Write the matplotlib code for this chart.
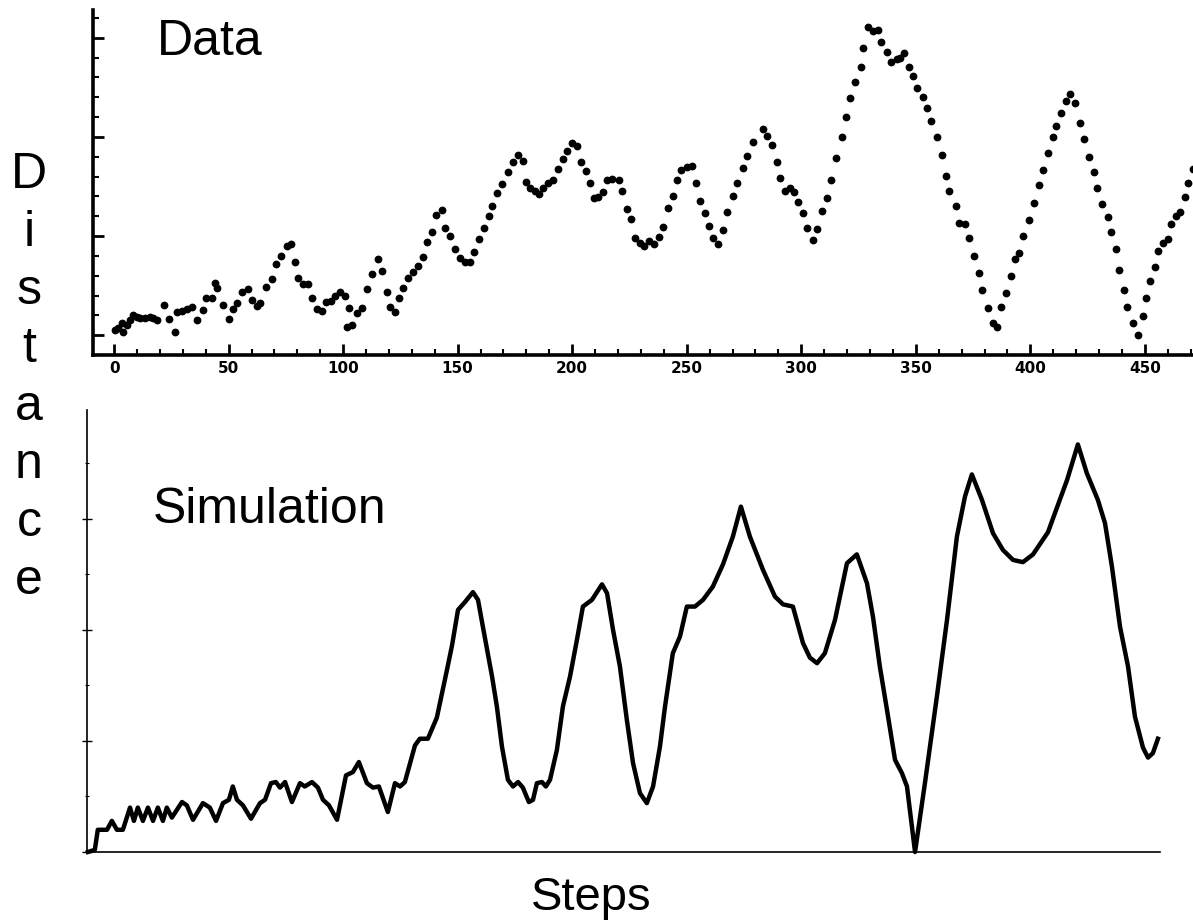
import numpy as np
import matplotlib
matplotlib.use('Agg')
import matplotlib.pyplot as plt
from matplotlib.ticker import MultipleLocator, NullLocator, NullFormatter

# measured data (top panel), step vs distance (arbitrary units)
data_steps = [0.4, 1.7, 3.5, 3.9, 5.7, 7.0, 8.3, 10.0, 11.3, 13.5, 15.7, 17.0, 18.8, 21.8, 24.0, 26.6,
              27.5, 29.7, 31.9, 34.0, 36.2, 38.8, 40.1, 42.8, 44.1, 44.9, 47.6, 50.2, 51.9, 53.7, 55.8,
              58.5, 60.2, 62.4, 63.7, 66.3, 68.9, 70.7, 72.9, 75.5, 77.2, 79.0, 80.3, 82.5, 84.6, 86.4,
              88.6, 90.8, 92.5, 94.7, 96.4, 98.6, 100.8, 101.7, 102.5, 103.8, 106.0, 108.2, 110.4, 112.6,
              115.2, 116.9, 119.1, 120.4, 122.6, 124.3, 126.1, 128.3, 130.5, 132.6, 134.8, 136.6, 138.7,
              140.5, 143.1, 144.4, 146.6, 148.8, 151.0, 153.1, 155.3, 157.1, 159.3, 161.4, 163.6, 164.9,
              167.1, 169.3, 171.9, 174.1, 176.3, 178.4, 179.8, 181.5, 183.7, 185.4, 187.2, 189.4, 191.5,
              193.7, 195.9, 197.6, 199.8, 202.0, 203.7, 205.9, 207.7, 209.4, 211.2, 213.4, 215.1, 217.3,
              220.3, 221.6, 223.8, 225.6, 227.3, 229.5, 231.2, 233.4, 235.6, 237.8, 239.5, 241.7, 243.9,
              245.6, 247.4, 250.0, 252.2, 253.9, 255.7, 257.9, 259.6, 261.4, 263.5, 265.7, 267.5, 270.1,
              271.8, 274.4, 276.2, 278.8, 283.2, 284.9, 287.1, 289.3, 290.6, 292.8, 294.9, 296.7, 298.4,
              300.6, 302.4, 305.0, 306.7, 308.9, 311.1, 312.8, 315.0, 317.6, 319.4, 321.1, 323.3, 325.9,
              326.8, 329.0, 331.2, 333.3, 334.6, 337.3, 339.0, 341.6, 342.9, 344.7, 346.9, 348.6, 350.4,
              353.0, 354.7, 356.5, 359.1, 361.3, 363.0, 364.3, 367.4, 368.7, 371.3, 373.0, 375.2, 377.4,
              379.1, 381.3, 383.5, 385.3, 387.4, 389.2, 391.4, 393.1, 394.9, 397.0, 399.2, 401.4, 403.6,
              405.3, 407.5, 409.7, 411.4, 413.2, 415.4, 417.5, 419.3, 421.5, 423.2, 425.4, 427.6, 429.3,
              431.1, 433.7, 435.4, 437.2, 438.9, 440.7, 442.4, 445.0, 447.2, 449.0, 450.7, 452.4, 454.6,
              455.9, 458.1, 459.9, 461.6, 463.4, 465.5, 467.3, 468.6, 470.8]
data_dist = [0.05, 0.07, 0.12, 0.03, 0.10, 0.15, 0.20, 0.18, 0.17, 0.17, 0.18, 0.17, 0.15, 0.30, 0.16, 0.03,
             0.23, 0.24, 0.26, 0.28, 0.15, 0.25, 0.38, 0.38, 0.53, 0.48, 0.30, 0.16, 0.26, 0.32, 0.44,
             0.47, 0.35, 0.29, 0.32, 0.49, 0.57, 0.72, 0.80, 0.90, 0.92, 0.74, 0.58, 0.52, 0.52, 0.37,
             0.26, 0.24, 0.33, 0.34, 0.40, 0.44, 0.40, 0.08, 0.27, 0.10, 0.22, 0.27, 0.47, 0.62,
             0.77, 0.65, 0.44, 0.28, 0.23, 0.37, 0.48, 0.58, 0.64, 0.70, 0.79, 0.94, 1.04,
             1.21, 1.26, 1.08, 1.00, 0.87, 0.78, 0.74, 0.74, 0.84, 0.97, 1.08, 1.20, 1.30,
             1.43, 1.52, 1.65, 1.75, 1.82, 1.76, 1.55, 1.48, 1.45, 1.42, 1.48, 1.53, 1.57,
             1.68, 1.78, 1.86, 1.94, 1.91, 1.75, 1.66, 1.53, 1.38, 1.39, 1.44, 1.57, 1.58,
             1.57, 1.45, 1.27, 1.17, 0.98, 0.93, 0.90, 0.95, 0.92, 0.99, 1.09, 1.28, 1.40,
             1.57, 1.67, 1.70, 1.71, 1.53, 1.35, 1.23, 1.10, 0.98, 0.92, 1.06, 1.24, 1.40,
             1.54, 1.69, 1.81, 1.95, 2.08, 2.01, 1.92, 1.75, 1.59, 1.45, 1.48, 1.44, 1.34,
             1.23, 1.08, 0.96, 1.07, 1.25, 1.38, 1.57, 1.79, 2.00, 2.20, 2.39, 2.55, 2.71,
             2.90, 3.11, 3.07, 3.08, 2.96, 2.86, 2.76, 2.79, 2.80, 2.85, 2.71, 2.61, 2.49,
             2.40, 2.29, 2.16, 2.00, 1.82, 1.61, 1.45, 1.30, 1.13, 1.12, 0.98, 0.80, 0.63,
             0.46, 0.27, 0.12, 0.08, 0.28, 0.43, 0.60, 0.77, 0.83, 1.00, 1.16, 1.33, 1.51,
             1.67, 1.84, 2.00, 2.11, 2.24, 2.36, 2.43, 2.34, 2.14, 1.98, 1.80, 1.65, 1.48,
             1.32, 1.19, 1.04, 0.87, 0.66, 0.46, 0.28, 0.12, 0.00, 0.19, 0.37, 0.55, 0.69,
             0.85, 0.93, 0.97, 1.12, 1.20, 1.24, 1.39, 1.54, 1.68]

# simulation (bottom panel)
sim_steps = [0, 3.0, 4.3, 8.3, 10.4, 12.6, 15.2, 18.3, 20.0, 21.7, 23.9, 26.1, 28.3, 30.4, 32.6, 34.3,
             36.5, 40.9, 43.0, 45.7, 50.0, 53.0, 55.7, 58.7, 61.3, 63.0, 64.8, 67.4, 70.9, 74.8, 77.0,
             79.6, 81.7, 83.5, 85.7, 88.7, 92.2, 94.3, 97.4, 100.0, 102.2, 104.8, 108.3, 112.2, 115.2,
             117.8, 121.3, 123.9, 126.5, 130.4, 133.5, 135.7, 137.8, 142.2, 144.3, 147.8, 151.7, 156.1,
             158.3, 160.9, 163.9, 167.4, 169.6, 171.7, 175.7, 177.8, 180.0, 182.6, 184.8, 187.0, 189.1,
             191.7, 193.5, 195.2, 197.4, 199.1, 200.9, 203.9, 206.5, 209.6, 212.6, 215.2, 219.1, 223.5,
             225.7, 228.3, 231.3, 234.3, 237.0, 240.0, 243.0, 245.7, 248.7, 250.9, 254.3, 257.4, 260.4,
             263.9, 267.4, 271.7, 276.1, 280.4, 283.9, 287.8, 293.5, 298.7, 302.2, 306.5, 310.9, 313.9,
             317.0, 320.4, 324.8, 330.0, 334.3, 338.7, 341.3, 344.3, 347.4, 350.9, 353.9, 356.1, 359.6,
             363.9, 369.1, 373.5, 377.8, 381.3, 384.3, 388.7, 393.5, 397.8, 402.2, 406.5, 410.9, 417.4,
             425.7, 430.4, 434.3, 439.1, 442.2, 445.2, 448.7, 452.2, 455.2, 458.7, 460.9, 463.0, 465.2]
sim_dist = [0.0, 0.02, 0.20, 0.20, 0.28, 0.20, 0.20, 0.40, 0.28, 0.40, 0.28, 0.40, 0.28, 0.40, 0.28, 0.40,
            0.31, 0.45, 0.42, 0.29, 0.44, 0.40, 0.28, 0.44, 0.47, 0.59, 0.47, 0.42, 0.30, 0.44, 0.47,
            0.62, 0.63, 0.58, 0.63, 0.45, 0.62, 0.59, 0.63, 0.58, 0.47, 0.42, 0.29, 0.69, 0.72,
            0.81, 0.62, 0.58, 0.59, 0.36, 0.62, 0.59, 0.63, 0.96, 1.02, 1.02, 1.21, 1.64,
            1.86, 2.18, 2.25, 2.34, 2.27, 2.03, 1.58, 1.31, 0.95, 0.65, 0.59, 0.63, 0.58,
            0.45, 0.47, 0.62, 0.63, 0.59, 0.65, 0.92, 1.31, 1.58, 1.91, 2.21, 2.27, 2.41,
            2.33, 2.00, 1.67, 1.19, 0.80, 0.53, 0.44, 0.59, 0.95, 1.31, 1.79, 1.94, 2.21,
            2.21, 2.27, 2.39, 2.59, 2.84, 3.11, 2.84, 2.54, 2.30, 2.23, 2.21, 1.88, 1.75,
            1.70, 1.79, 2.09, 2.60, 2.68, 2.42, 2.12, 1.67, 1.28, 0.83, 0.71, 0.59, 0.00,
            0.62, 1.40, 2.09, 2.84, 3.20, 3.40, 3.17, 2.87, 2.72, 2.63, 2.61, 2.68, 2.88,
            3.35, 3.67, 3.41, 3.17, 2.96, 2.57, 2.03, 1.67, 1.22, 0.94, 0.85, 0.89, 1.02]

W, H = 1193, 923
fig = plt.figure(figsize=(W / 100, H / 100), dpi=100)
font = 'Liberation Sans'

# top panel: data
ax1 = fig.add_axes([93 / W, 1 - 355 / H, 1100 / W, 345 / H])
ax1.plot(data_steps, data_dist, 'o', color='black', ms=4.6, mec='black', clip_on=False)
ax1.set_xlim(-9.2, 471)
ax1.set_ylim(-0.2, 3.28)
for s in ['top', 'right']:
    ax1.spines[s].set_visible(False)
for s in ['left', 'bottom']:
    ax1.spines[s].set_linewidth(2.6)
ax1.xaxis.set_major_locator(MultipleLocator(50))
ax1.xaxis.set_minor_locator(MultipleLocator(10))
ax1.yaxis.set_major_locator(MultipleLocator(1))
ax1.yaxis.set_minor_locator(MultipleLocator(0.2))
ax1.tick_params(which='major', direction='in', length=8, width=2)
ax1.tick_params(which='minor', direction='in', length=4, width=1.5)
ax1.tick_params(axis='x', pad=4)
ax1.set_yticklabels([])
for t in ax1.get_xticklabels():
    t.set_fontweight('heavy')
    t.set_fontsize(11)
    t.set_family('DejaVu Sans')

# bottom panel: simulation
ax2 = fig.add_axes([87 / W, 1 - 852 / H, 1073 / W, 442 / H])
ax2.plot(sim_steps, sim_dist, '-', color='black', lw=3.2, solid_joinstyle='round', clip_on=False)
ax2.set_xlim(-0.4, 466.1)
ax2.set_ylim(0, 3.98)
for s in ['top', 'right']:
    ax2.spines[s].set_visible(False)
for s in ['left', 'bottom']:
    ax2.spines[s].set_linewidth(1.2)
ax2.xaxis.set_major_locator(NullLocator())
ax2.yaxis.set_major_locator(MultipleLocator(1))
ax2.yaxis.set_minor_locator(MultipleLocator(0.5))
ax2.yaxis.set_major_formatter(NullFormatter())
ax2.tick_params(axis='y', which='major', direction='inout', length=7, width=1)
ax2.tick_params(axis='y', which='minor', direction='inout', length=3, width=0.8)

# labels
fig.text(157 / W, 1 - 55 / H, 'Data', fontsize=36, family=font, ha='left', va='baseline')
fig.text(153 / W, 1 - 523 / H, 'Simulation', fontsize=36, family=font, ha='left', va='baseline')
fig.text(591 / W, 1 - 910 / H, 'Steps', fontsize=34, family=font, ha='center', va='baseline')
ylab = 'Distance'
for i, ch in enumerate(ylab):
    fig.text(29 / W, 1 - (188 + 58 * i) / H, ch, fontsize=36, family=font, ha='center', va='baseline')

fig.savefig('out.png', dpi=100)
